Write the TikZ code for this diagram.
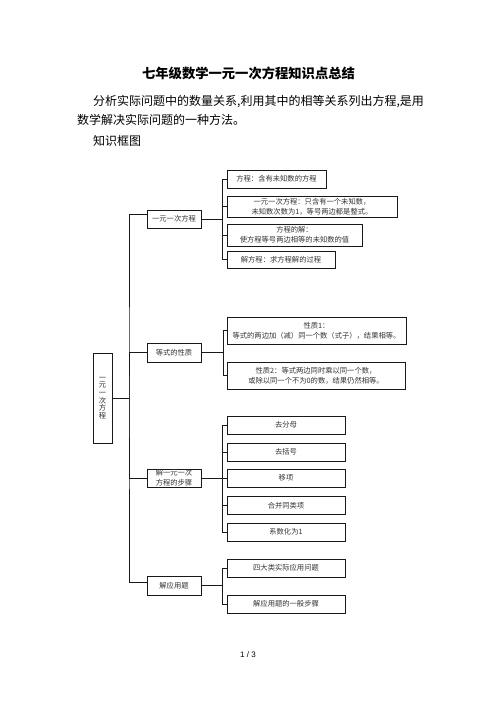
\documentclass[tikz,border=0pt]{standalone}
\usepackage{fontspec}
\setmainfont{Liberation Sans}
\newfontfamily\cjk{Noto Sans CJK SC}
\colorlet{boxline}{black!90}
\colorlet{boxtext}{black!80}

\begin{document}
\begin{tikzpicture}[x=1pt,y=-1pt]
\tikzset{lbox/.style={draw=boxline, line width=0.9pt, inner sep=0.5pt, align=center, text=boxtext, font=\cjk\fontsize{7.3}{10}\selectfont}}
\tikzset{topbox/.style={lbox, minimum width=54pt, minimum height=18pt}}
\tikzset{subbox/.style={lbox, minimum height=18pt}}
\tikzset{wire/.style={draw=boxline, line width=0.8pt}}
\tikzset{bodytext/.style={anchor=base west, inner sep=0pt, font=\cjk\fontsize{12}{14}\selectfont}}
\useasboundingbox (0,0) rectangle (496,702);

\node[anchor=base, inner sep=0pt, font=\cjk\bfseries\fontsize{13.3}{15}\selectfont] (title) at (248.5,78) {七年级数学一元一次方程知识点总结};
\node[bodytext] (para1) at (93,105.6) {分析实际问题中的数量关系,利用其中的相等关系列出方程,是用};
\node[bodytext] (para2) at (77,124.6) {数学解决实际问题的一种方法。};
\node[bodytext] (frame) at (93,145.6) {知识框图};

\node[lbox, minimum width=19pt, minimum height=90pt, font=\cjk\fontsize{7.3}{7.6}\selectfont] (root) at (102.5,398) {一\\元\\一\\次\\方\\程};

\node[topbox] (b1) at (174,219) {一元一次方程};
\node[topbox, minimum height=19pt] (b2) at (174,352.5) {等式的性质};
\node[topbox, inner sep=0pt] (b3) at (174,478) {解一元一次\\方程的步骤};
\node[topbox, minimum height=19pt] (b4) at (174,585.5) {解应用题};

\node[subbox, minimum width=99pt] (a1) at (276.5,179) {方程：含有未知数的方程};
\node[subbox, minimum width=170pt, minimum height=21pt] (a2) at (312,206.5) {一元一次方程：只含有一个未知数，\\未知数次数为1，等号两边都是整式。};
\node[subbox, minimum width=135pt, minimum height=22pt] (a3) at (294.5,235) {方程的解：\\使方程等号两边相等的未知数的值};
\node[subbox, minimum width=108pt, minimum height=17pt] (a4) at (281,259.5) {解方程：求方程解的过程};

\node[subbox, minimum width=179pt, minimum height=27pt] (p1) at (316.5,330.5) {性质1：\\等式的两边加（减）同一个数（式子），结果相等。};
\node[subbox, minimum width=178pt, minimum height=27pt] (p2) at (316,375.5) {性质2：等式两边同时乘以同一个数，\\或除以同一个不为0的数，结果仍然相等。};

\node[subbox, minimum width=118pt] (s1) at (286,425) {去分母};
\node[subbox, minimum width=118pt] (s2) at (286,452) {去括号};
\node[subbox, minimum width=118pt] (s3) at (286,478) {移项};
\node[subbox, minimum width=118pt] (s4) at (286,505.5) {合并同类项};
\node[subbox, minimum width=118pt] (s5) at (286,532) {系数化为1};

\node[subbox, minimum width=118pt] (u1) at (286,568) {四大类实际应用问题};
\node[subbox, minimum width=118pt] (u2) at (286,604) {解应用题的一般步骤};

\coordinate (sp) at (129,398);
\draw[wire] (root.east) -- (sp);
\draw[wire] ([yshift=5pt]b1.west) -| (sp) |- ([yshift=3.5pt]b4.west);
\draw[wire] (b2.west) -| (sp) |- (b3.west);

\coordinate (j1) at ([xshift=21pt]b1.east);
\coordinate (j2) at ([xshift=22pt]b2.east);
\coordinate (j3) at ([xshift=21pt]b3.east);
\coordinate (j4) at ([xshift=21pt]b4.east);
\draw[wire] (b1.east) -- (j1);
\draw[wire] (b2.east) -- (j2);
\draw[wire] (b3.east) -- (j3);
\draw[wire] (b4.east) -- (j4);
\foreach \n in {a1,a2,a3,a4} \draw[wire] (j1) |- (\n.west);
\foreach \n in {p1,p2} \draw[wire] (j2) |- (\n.west);
\foreach \n in {s1,s2,s3,s4,s5} \draw[wire] (j3) |- (\n.west);
\foreach \n in {u1,u2} \draw[wire] (j4) |- (\n.west);

\node[font=\fontsize{8}{9}\selectfont] (page) at (248,655) {1 / 3};
\end{tikzpicture}
\end{document}
